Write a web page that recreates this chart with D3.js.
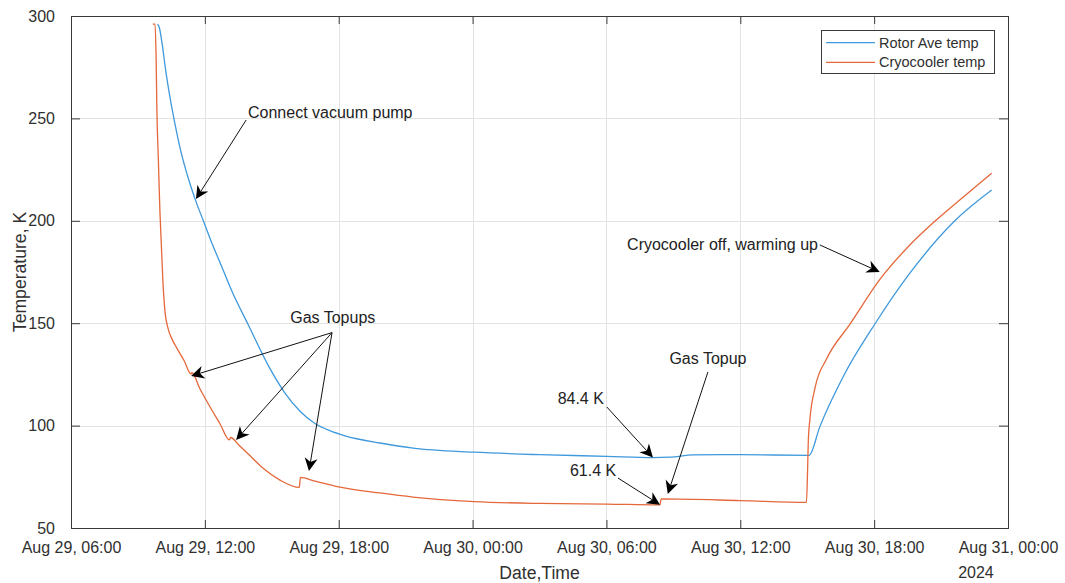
<!DOCTYPE html>
<html>
<head>
<meta charset="utf-8">
<script src="https://cdn.jsdelivr.net/npm/d3@7"></script>
<style>
  html, body { margin: 0; padding: 0; background: #fff; }
  svg { display: block; font-family: "Liberation Sans", Arial, Helvetica, sans-serif; }
</style>
</head>
<body>
<div id="chart"></div>
<script>
// ---- data ----
const rotorTimes = ['2024-08-29 09:53','2024-08-29 09:58','2024-08-29 10:05','2024-08-29 10:15','2024-08-29 10:26','2024-08-29 10:40',
  '2024-08-29 10:56','2024-08-29 11:15','2024-08-29 11:36','2024-08-29 11:58','2024-08-29 12:19','2024-08-29 12:41',
  '2024-08-29 13:18','2024-08-29 13:56','2024-08-29 14:50','2024-08-29 15:35','2024-08-29 16:16','2024-08-29 16:56',
  '2024-08-29 17:36','2024-08-29 18:17','2024-08-29 19:51','2024-08-29 21:20','2024-08-30 00:04','2024-08-30 03:01',
  '2024-08-30 06:01','2024-08-30 08:05','2024-08-30 08:51','2024-08-30 09:53','2024-08-30 11:59','2024-08-30 15:05',
  '2024-08-30 15:34','2024-08-30 16:37','2024-08-30 18:02','2024-08-30 19:36','2024-08-30 21:37','2024-08-30 23:16'];
const rotorTemp = [296, 294, 286.5, 273, 260.5, 247,
  233.5, 221, 209.5, 199, 189, 179.5,
  163.5, 149.5, 129.5, 116, 107, 101,
  97.5, 95, 91.5, 89, 87, 85.8,
  85.0, 84.4, 84.6, 85.7, 85.8, 85.5,
  99.5, 124, 149.6, 174.4, 200, 215];

const cryoTimes = ['2024-08-29 09:40','2024-08-29 09:46','2024-08-29 09:49','2024-08-29 09:51','2024-08-29 09:55','2024-08-29 09:59',
  '2024-08-29 10:03','2024-08-29 10:07','2024-08-29 10:13','2024-08-29 10:21','2024-08-29 10:32','2024-08-29 10:45',
  '2024-08-29 11:04','2024-08-29 11:23','2024-08-29 11:25','2024-08-29 11:47','2024-08-29 12:14','2024-08-29 12:41',
  '2024-08-29 13:06','2024-08-29 13:09','2024-08-29 13:34','2024-08-29 14:01','2024-08-29 14:36','2024-08-29 15:22',
  '2024-08-29 16:14','2024-08-29 16:17','2024-08-29 16:56','2024-08-29 18:03','2024-08-29 19:51','2024-08-29 21:20',
  '2024-08-30 00:04','2024-08-30 03:01','2024-08-30 06:01','2024-08-30 08:24','2024-08-30 08:27','2024-08-30 11:59',
  '2024-08-30 14:58','2024-08-30 15:01','2024-08-30 15:03','2024-08-30 15:07','2024-08-30 15:21','2024-08-30 15:52',
  '2024-08-30 16:55','2024-08-30 18:16','2024-08-30 19:36','2024-08-30 20:44','2024-08-30 21:59','2024-08-30 23:16'];
const cryoTemp = [296, 296, 278.5, 254, 229.7, 205.3,
  188.2, 171.1, 155.3, 147.5, 142.1, 137.7,
  131.8, 125.2, 125.8, 117.9, 109.1, 100.8,
  93.0, 94.2, 90.0, 85.4, 79.3, 73.4,
  69.8, 74.7, 72.9, 70.0, 67.1, 65.1,
  62.9, 62.0, 61.7, 61.3, 64.2, 63.4,
  62.5, 78.3, 93, 102.7, 118.4, 132.5,
  149.5, 171.5, 188.2, 199.9, 211.5, 223.2];

const seriesNames = ['Rotor Ave temp', 'Cryocooler temp'];
const xTickLabels = ['2024-08-29 06:00','2024-08-29 12:00','2024-08-29 18:00','2024-08-30 00:00','2024-08-30 06:00','2024-08-30 12:00','2024-08-30 18:00','2024-08-31 00:00'];
const yTickValues = [50, 100, 150, 200, 250, 300];

// annotations: text anchor point and arrow(s), in data units (time, K)
const notes = [
  { text: 'Connect vacuum pump', at: ['2024-08-29 13:56', 253], anchor: 'start',
    arrows: [[['2024-08-29 13:51', 249.2], ['2024-08-29 11:36', 210.6]]] },
  { text: 'Gas Topups', at: ['2024-08-29 17:44', 153], anchor: 'middle',
    arrows: [[['2024-08-29 17:42', 145.4], ['2024-08-29 11:23', 124.2]],
             [['2024-08-29 17:42', 145.4], ['2024-08-29 13:24', 93.0]],
             [['2024-08-29 17:42', 145.4], ['2024-08-29 16:40', 77.8]]] },
  { text: 'Cryocooler off, warming up', at: ['2024-08-30 15:29', 188.7], anchor: 'end',
    arrows: [[['2024-08-30 15:34', 188.2], ['2024-08-30 18:15', 175.0]]] },
  { text: 'Gas Topup', at: ['2024-08-30 10:33', 133], anchor: 'middle',
    arrows: [[['2024-08-30 10:33', 126.2], ['2024-08-30 08:45', 66.6]]] },
  { text: '84.4 K', at: ['2024-08-30 04:51', 113.5], anchor: 'middle',
    arrows: [[['2024-08-30 06:01', 109.1], ['2024-08-30 08:05', 84.4]]] },
  { text: '61.4 K', at: ['2024-08-30 05:24', 78.3], anchor: 'middle',
    arrows: [[['2024-08-30 06:31', 74.4], ['2024-08-30 08:24', 61.4]]] }
];

// ---- layout ----
const W = 1065, H = 583;
const m = { left: 71, right: 1008, top: 16, bottom: 528 };
const C = { rotor: '#3f99dc', cryo: '#e5683b', axis: '#3a3a3a', grid: '#e3e3e3', text: '#303030' };
const FS = 16;

const parse = d3.timeParse('%Y-%m-%d %H:%M');
const rotor = rotorTimes.map((t, i) => ({ t: parse(t), v: rotorTemp[i] }));
const cryo = cryoTimes.map((t, i) => ({ t: parse(t), v: cryoTemp[i] }));
const xTicks = xTickLabels.map(parse);

const x = d3.scaleTime().domain([xTicks[0], xTicks[xTicks.length - 1]]).range([m.left, m.right]);
const y = d3.scaleLinear().domain([50, 300]).range([m.bottom, m.top]);

const svg = d3.select('#chart').append('svg').attr('width', W).attr('height', H);

// grid
const grid = svg.append('g').attr('stroke', C.grid).attr('stroke-width', 1);
grid.selectAll('line.gx').data(xTicks.slice(1, -1)).join('line')
  .attr('x1', d => Math.round(x(d)) + 0.5).attr('x2', d => Math.round(x(d)) + 0.5)
  .attr('y1', m.top).attr('y2', m.bottom);
grid.selectAll('line.gy').data(yTickValues.slice(1, -1)).join('line')
  .attr('y1', d => Math.round(y(d)) + 0.5).attr('y2', d => Math.round(y(d)) + 0.5)
  .attr('x1', m.left).attr('x2', m.right);

// lines
const line = d3.line().x(d => x(d.t)).y(d => y(d.v)).curve(d3.curveMonotoneX);
svg.append('path').datum(rotor).attr('d', line).attr('fill', 'none').attr('stroke', C.rotor).attr('stroke-width', 1.3);
svg.append('path').datum(cryo).attr('d', line).attr('fill', 'none').attr('stroke', C.cryo).attr('stroke-width', 1.3);

// axes (inward ticks on all four sides)
const fmt = d3.timeFormat('%b %d, %H:%M');
const styleAxis = g => {
  g.select('.domain').remove();
  g.selectAll('.tick line').attr('stroke', C.axis);
  g.selectAll('.tick text').attr('fill', C.text).attr('font-size', FS).attr('font-family', null);
};
const xb = svg.append('g').attr('transform', `translate(0,${m.bottom})`)
  .call(d3.axisBottom(x).tickValues(xTicks).tickFormat(fmt).tickSizeInner(-8).tickSizeOuter(0).tickPadding(14))
  .call(styleAxis);
svg.append('g').attr('transform', `translate(0,${m.top})`)
  .call(d3.axisTop(x).tickValues(xTicks).tickFormat('').tickSizeInner(-8).tickSizeOuter(0)).call(styleAxis);
svg.append('g').attr('transform', `translate(${m.left},0)`)
  .call(d3.axisLeft(y).tickValues(yTickValues).tickSizeInner(-9).tickSizeOuter(0).tickPadding(16))
  .call(styleAxis);
svg.append('g').attr('transform', `translate(${m.right},0)`)
  .call(d3.axisRight(y).tickValues(yTickValues).tickFormat('').tickSizeInner(-9).tickSizeOuter(0)).call(styleAxis);

svg.append('rect').attr('x', m.left + 0.5).attr('y', m.top + 0.5)
  .attr('width', m.right - m.left).attr('height', m.bottom - m.top)
  .attr('fill', 'none').attr('stroke', C.axis).attr('stroke-width', 1);

// year label under last tick, aligned to left edge of its label
const lastLab = xb.selectAll('.tick text').nodes().pop();
const lw = lastLab.getComputedTextLength();
svg.append('text').attr('x', x(xTicks[xTicks.length - 1]) - lw / 2).attr('y', m.bottom + 50)
  .attr('font-size', FS).attr('fill', C.text).text('2024');

// axis titles
svg.append('text').attr('x', (m.left + m.right) / 2).attr('y', m.bottom + 51)
  .attr('text-anchor', 'middle').attr('font-size', 17.6).attr('fill', C.text).text('Date,Time');
svg.append('text').attr('transform', `translate(26,${(m.top + m.bottom) / 2}) rotate(-90)`)
  .attr('text-anchor', 'middle').attr('font-size', 17.6).attr('fill', C.text).text('Temperature, K');

// annotations
const pt = p => [x(parse(p[0])), y(p[1])];
const ann = svg.append('g');
notes.forEach(n => {
  const [tx, ty] = pt(n.at);
  ann.append('text').attr('x', tx).attr('y', ty).attr('dy', '0.35em').attr('text-anchor', n.anchor)
    .attr('font-size', FS).attr('fill', '#222').text(n.text);
  n.arrows.forEach(([a, b]) => {
    const [x1, y1] = pt(a), [x2, y2] = pt(b);
    const ang = Math.atan2(y2 - y1, x2 - x1), L = 13, Wd = 6.5;
    const c = Math.cos(ang), s = Math.sin(ang);
    const bx = x2 - c * L * 0.7, by = y2 - s * L * 0.7;
    ann.append('line').attr('x1', x1).attr('y1', y1).attr('x2', bx).attr('y2', by)
      .attr('stroke', '#111').attr('stroke-width', 1);
    const p1 = [x2 - c * L - s * Wd, y2 - s * L + c * Wd];
    const p2 = [x2 - c * L + s * Wd, y2 - s * L - c * Wd];
    ann.append('path').attr('d', `M${x2},${y2}L${p1}L${bx},${by}L${p2}Z`).attr('fill', '#000');
  });
});

// legend
const lg = svg.append('g').attr('transform', 'translate(821,30)');
lg.append('rect').attr('x', 0.5).attr('y', 0.5).attr('width', 173).attr('height', 43)
  .attr('fill', '#fff').attr('stroke', C.axis).attr('stroke-width', 1);
[C.rotor, C.cryo].forEach((col, i) => {
  const yy = 12.7 + i * 19.6;
  lg.append('line').attr('x1', 5).attr('x2', 54).attr('y1', yy).attr('y2', yy).attr('stroke', col).attr('stroke-width', 1.3);
  lg.append('text').attr('x', 58).attr('y', yy).attr('dy', '0.35em').attr('font-size', 14.5)
    .attr('fill', C.text).text(seriesNames[i]);
});
</script>
</body>
</html>
